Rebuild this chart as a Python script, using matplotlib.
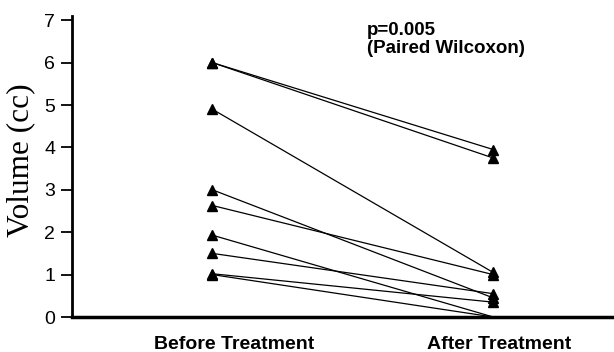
import matplotlib
matplotlib.use("Agg")
import matplotlib.pyplot as plt
import numpy as np

categories = ["Before Treatment", "After Treatment"]
before = [6.0, 6.0, 4.9, 3.0, 2.63, 1.93, 1.5, 1.02, 1.0]
after = [3.95, 3.75, 1.05, 0.45, 1.0, 0.0, 0.55, 0.35, 0.0]
yticks = [0, 1, 2, 3, 4, 5, 6, 7]
annotation = "p=0.005\n(Paired Wilcoxon)"

fig = plt.figure(figsize=(6.14, 3.52), dpi=100)
ax = fig.add_axes([72/614, 35/352, 1 - 72/614, 301/352])

xpos = np.arange(len(categories))
for b, a in zip(before, after):
    ax.plot(xpos, [b, a], color="black", lw=0.9, zorder=2)
    vals = np.array([b, a])
    mask = vals > 0
    ax.plot(xpos[mask], vals[mask], ls="none", marker="^", ms=7,
            color="black", zorder=3, clip_on=False)

ax.set_xlim(-0.5, 1.43)
ax.set_ylim(0, 7.1)
ax.set_yticks(yticks)
ax.set_yticklabels([str(t) for t in yticks], fontfamily="Liberation Sans", fontsize=14)
ax.tick_params(axis="y", length=8, width=1.3, pad=4)

label_offsets = [0.078, 0.021]
ax.set_xticks(xpos + np.array(label_offsets))
ax.set_xticklabels(categories, fontfamily="Liberation Sans", fontweight="bold", fontsize=14)
ax.tick_params(axis="x", length=0, pad=14)

for s in ["top", "right"]:
    ax.spines[s].set_visible(False)
ax.spines["left"].set_linewidth(2)
ax.spines["bottom"].set_linewidth(2.5)

ax.set_ylabel("Volume (cc)", fontfamily="Liberation Serif", fontsize=22.5, labelpad=6)
ax.yaxis.set_label_coords(-(72 - 21) / 542, 0.5 + 6 / 301)
ax.yaxis.label.set_va("center")

fig.text(367/614, 1 - 22/352, annotation, fontfamily="Liberation Sans",
         fontweight="bold", fontsize=13.5, va="top", ha="left", linespacing=1.1)

fig.savefig("out.png", dpi=100)
